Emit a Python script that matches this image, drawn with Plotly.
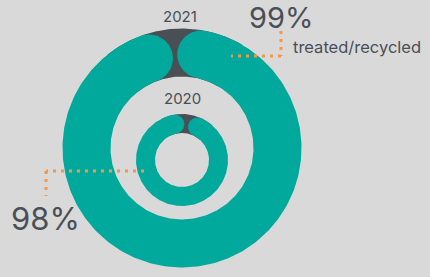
import numpy as np
import plotly.graph_objects as go

# ---- data ----
years = ["2021", "2020"]
treated_pct = [99, 98]
pct_labels = ["99%", "98%"]
caption = "treated/recycled"

# ---- styling / layout ----
BG = "#d9d9d9"
TEAL = "#00a99c"
DARK = "#4a4f56"
ORANGE = "#f7964a"
TEXT = "#4a4f56"
FONT = "Inter"

rings = [  # geometry per year (pixel-space layout)
    dict(cx=182, cy=148, r_out=119.5, r_in=71.5, rot=-4.3),
    dict(cx=182, cy=160, r_out=46, r_in=27, rot=7.0),
]


def pt(cx, cy, r, th):
    return cx + r * np.sin(th), cy - r * np.cos(th)


def sector(cx, cy, r_out, r_in, a0, a1, n=200):
    t = np.linspace(a0, a1, n)
    xo, yo = pt(cx, cy, r_out, t)
    xi, yi = pt(cx, cy, r_in, t[::-1])
    return np.r_[xo, xi, xo[0]], np.r_[yo, yi, yo[0]]


def rounded_arc(cx, cy, r_out, r_in, th_s, th_e, n=300):
    c = (r_out - r_in) / 2
    rm = (r_out + r_in) / 2
    d = np.arctan(c / rm)
    ps, pe = th_s + d, th_e - d
    xs, ys = [], []
    t = np.linspace(ps, pe, n)
    x, y = pt(cx, cy, r_out, t)
    xs.append(x); ys.append(y)
    # end cap
    Cx, Cy = pt(cx, cy, rm, pe)
    u = np.array([np.sin(pe), -np.cos(pe)])
    tv = np.array([np.cos(pe), np.sin(pe)])
    a = np.linspace(0, np.pi, 60)
    xs.append(Cx + c * (np.cos(a) * u[0] + np.sin(a) * tv[0]))
    ys.append(Cy + c * (np.cos(a) * u[1] + np.sin(a) * tv[1]))
    t = np.linspace(pe, ps, n)
    x, y = pt(cx, cy, r_in, t)
    xs.append(x); ys.append(y)
    # start cap
    Cx, Cy = pt(cx, cy, rm, ps)
    u = np.array([np.sin(ps), -np.cos(ps)])
    tv = np.array([np.cos(ps), np.sin(ps)])
    a = np.linspace(np.pi, 0, 60)
    xs.append(Cx + c * (np.cos(a) * u[0] - np.sin(a) * tv[0]))
    ys.append(Cy + c * (np.cos(a) * u[1] - np.sin(a) * tv[1]))
    return np.concatenate(xs), np.concatenate(ys)


fig = go.Figure()
for year, p, g in zip(years, treated_pct, rings):
    rot = np.deg2rad(g["rot"])
    gap = (100 - p) / 100 * 2 * np.pi
    # remainder (dark) ring underneath
    x, y = sector(g["cx"], g["cy"], g["r_out"], g["r_in"], rot - 0.6, rot + 0.6)
    fig.add_trace(go.Scatter(x=x, y=y, fill="toself", fillcolor=DARK, mode="lines",
                             line=dict(width=0), hoverinfo="skip", showlegend=False))
    # treated share
    x, y = rounded_arc(g["cx"], g["cy"], g["r_out"], g["r_in"],
                       rot + gap / 2, rot + 2 * np.pi - gap / 2)
    fig.add_trace(go.Scatter(x=x, y=y, fill="toself", fillcolor=TEAL, mode="lines",
                             line=dict(width=0), name=year, hoverinfo="skip", showlegend=False))

annotations = [
    dict(x=180, y=16, text=years[0], font=dict(size=15, color=TEXT)),
    dict(x=182, y=98, text=years[1], font=dict(size=15, color=TEXT)),
    dict(x=281, y=17, text=pct_labels[0], font=dict(size=29, color=TEXT)),
    dict(x=357, y=47, text=caption, font=dict(size=16.5, color=TEXT)),
    dict(x=45, y=218, text=pct_labels[1], font=dict(size=31, color=TEXT)),
]
for a in annotations:
    a.update(xref="x", yref="y", showarrow=False, xanchor="center", yanchor="middle")
    a["font"]["family"] = FONT

dot = dict(color=ORANGE, width=3, dash="3px,5px")
shapes = [
    dict(type="line", x0=281, y0=31, x1=281, y1=56, line=dot),
    dict(type="line", x0=281, y0=56, x1=231, y1=56, line=dot),
    dict(type="line", x0=144, y0=171, x1=46, y1=171, line=dot),
    dict(type="line", x0=46, y0=171, x1=46, y1=196, line=dot),
]
for s in shapes:
    s.update(xref="x", yref="y", layer="above")

fig.update_layout(
    width=430, height=277,
    margin=dict(l=0, r=0, t=0, b=0),
    paper_bgcolor=BG, plot_bgcolor=BG,
    xaxis=dict(range=[0, 430], visible=False, fixedrange=True),
    yaxis=dict(range=[277, 0], visible=False, fixedrange=True),
    annotations=annotations, shapes=shapes,
    showlegend=False,
)
fig.write_html(
    "out.html",
    config={"displayModeBar": False},
    post_script="document.body.style.margin='0';document.body.style.overflow='hidden';",
)
